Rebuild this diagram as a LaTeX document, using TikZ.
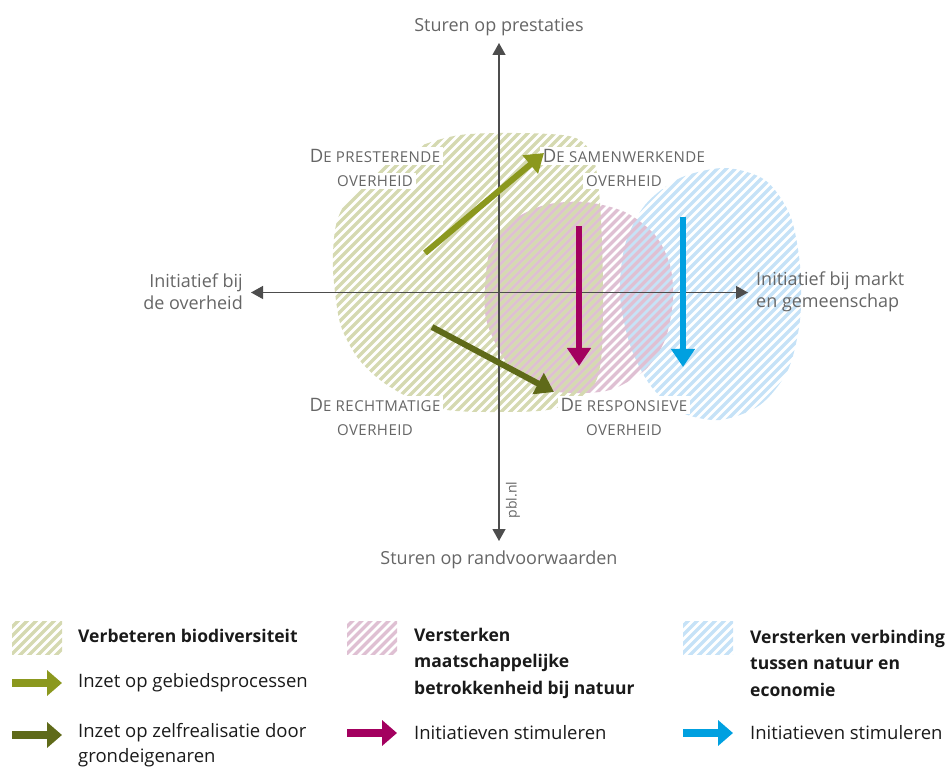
\documentclass[tikz,border=0pt]{standalone}
\usepackage{fontspec}
\setmainfont{Open Sans}
\usetikzlibrary{arrows.meta}

\definecolor{axisgray}{HTML}{4D4D4D}
\definecolor{labelgray}{HTML}{666666}
\definecolor{legendblack}{HTML}{1A1A1A}
\definecolor{hatchgreen}{HTML}{D5D9B1}
\definecolor{hatchpink}{HTML}{DFC0D3}
\definecolor{hatchblue}{HTML}{C6E2F7}
\definecolor{olivelight}{HTML}{8B981E}
\definecolor{olivedark}{HTML}{5F6A19}
\definecolor{magentaarrow}{HTML}{A3005F}
\definecolor{cyanarrow}{HTML}{00A0E0}

% diagonal stripes (x + y = const), to be used inside a clipped scope
\newcommand\stripelines[3]{%
  \foreach \c in {#2,...,#3} {\draw[#1, line width=3.2pt] (\c,0) -- ++(-900,900);}}

% small caps imitation: first capital at full size
\newcommand\capfirst[1]{{\fontsize{18.5}{25}\selectfont #1}}

\tikzset{
  axisline/.style={draw=axisgray, line width=1.3pt,
    {Triangle[length=12pt,width=13pt]}-{Triangle[length=12pt,width=13pt]}},
  axislabel/.style={text=labelgray, font=\fontsize{18}{22}\selectfont, inner sep=0pt},
  quadlabel/.style={text=labelgray, fill=white, inner xsep=3pt, inner ysep=2.5pt,
    font=\addfontfeature{LetterSpace=3}\fontsize{15}{25}\selectfont},
  bigarrow/.style={line width=6pt, -{Triangle[length=18pt,width=23pt]}},
  legarrow/.style={line width=8pt, -{Triangle[length=15pt,width=25pt]}},
  legendhead/.style={anchor=west, align=left, inner sep=0pt, text=legendblack,
    font=\bfseries\fontsize{17.5}{26.5}\selectfont},
  legendtext/.style={anchor=west, align=left, inner sep=0pt, text=legendblack,
    font=\fontsize{18.5}{25}\selectfont},
}

\begin{document}
\begin{tikzpicture}[x=1pt,y=-1pt]
\useasboundingbox (0,0) rectangle (948,767);

% ---- hatched regions ----
\begin{scope}
  \clip plot[smooth cycle] coordinates {(620,295) (625,245) (645,205) (680,178)
    (725,168) (765,180) (790,215) (800,265) (800,320) (788,370) (760,405)
    (720,420) (680,412) (650,385) (630,345)};
  \stripelines{hatchblue}{400,409}{1300}
\end{scope}
\begin{scope}
  \clip plot[smooth cycle] coordinates {(485,290) (490,250) (510,222) (545,205)
    (585,202) (625,212) (655,235) (670,265) (673,300) (665,340) (645,370)
    (610,390) (570,393) (537,387) (507,363) (487,323)};
  \stripelines{hatchpink}{404.5,413.5}{1304.5}
\end{scope}
\begin{scope}
  \clip plot[smooth cycle] coordinates {(333,270) (335,230) (343,207) (360,187)
    (387,163) (420,146) (460,135) (517,133) (573,137) (593,157) (600,203)
    (603,287) (601,360) (590,390) (553,409) (500,412) (447,410) (410,398)
    (380,380) (357,357) (340,323)};
  \stripelines{hatchgreen}{400,409}{1300}
\end{scope}

% ---- quadrant labels (white knockout behind each line) ----
\node[quadlabel] (qpres) at (375,156) {\capfirst{D}E PRESTERENDE};
\node[quadlabel] (qpresb) at (375,181) {OVERHEID};
\node[quadlabel] (qsam) at (624,156) {\capfirst{D}E SAMENWERKENDE};
\node[quadlabel] (qsamb) at (624,181) {OVERHEID};
\node[quadlabel] (qrecht) at (375,405) {\capfirst{D}E RECHTMATIGE};
\node[quadlabel] (qrechtb) at (375,430) {OVERHEID};
\node[quadlabel] (qresp) at (624,405) {\capfirst{D}E RESPONSIEVE};
\node[quadlabel] (qrespb) at (624,430) {OVERHEID};

% ---- axes ----
\node[axislabel] (ttop) at (499,27) {Sturen op prestaties};
\node[axislabel] (tbottom) at (499,560) {Sturen op randvoorwaarden};
\node[axislabel, anchor=east, align=right] (tleft) at (243,292) {Initiatief bij\\de overheid};
\node[axislabel, anchor=west, align=left] (tright) at (756,292) {Initiatief bij markt\\en gemeenschap};
\coordinate (ytop) at (499,43);
\coordinate (ybottom) at (499,541);
\coordinate (xleft) at (251,292.5);
\coordinate (xright) at (748,292.5);
\draw[axisline] (ytop) -- (ybottom);
\draw[axisline] (xleft) -- (xright);
\node[text=labelgray, rotate=90, inner sep=0pt, font=\fontsize{14}{16}\selectfont] (credit) at (513,500) {pbl.nl};

% ---- arrows ----
\coordinate (a1s) at (425,253);
\coordinate (a1e) at (544,153);
\coordinate (a2s) at (432,327);
\coordinate (a2e) at (554,392);
\coordinate (a3s) at (579,226);
\coordinate (a3e) at (579,366);
\coordinate (a4s) at (683,217);
\coordinate (a4e) at (683,367);
\draw[bigarrow, olivelight] (a1s) -- (a1e);
\draw[bigarrow, olivedark] (a2s) -- (a2e);
\draw[bigarrow, magentaarrow] (a3s) -- (a3e);
\draw[bigarrow, cyanarrow] (a4s) -- (a4e);

% ---- legend ----
\begin{scope}
  \clip (12,621) rectangle (62,654);
  \stripelines{hatchgreen}{630,639}{720}
\end{scope}
\begin{scope}
  \clip (347,621) rectangle (397,654);
  \stripelines{hatchpink}{964.5,973.5}{1060}
\end{scope}
\begin{scope}
  \clip (683,621) rectangle (733,654);
  \stripelines{hatchblue}{1300,1309}{1390}
\end{scope}
\node[legendhead] (lg1) at (78,636) {Verbeteren biodiversiteit};
\node[legendhead] (lg2) at (414,663) {Versterken\\maatschappelijke\\betrokkenheid bij natuur};
\node[legendhead] (lg3) at (750,663) {Versterken verbinding\\tussen natuur en\\economie};

\coordinate (l1s) at (12,683);  \coordinate (l1e) at (62,683);
\coordinate (l2s) at (12,735);  \coordinate (l2e) at (62,735);
\coordinate (l3s) at (347,733); \coordinate (l3e) at (397,733);
\coordinate (l4s) at (683,733); \coordinate (l4e) at (733,733);
\draw[legarrow, olivelight] (l1s) -- (l1e);
\draw[legarrow, olivedark] (l2s) -- (l2e);
\draw[legarrow, magentaarrow] (l3s) -- (l3e);
\draw[legarrow, cyanarrow] (l4s) -- (l4e);
\node[legendtext] (lt1) at (78,683) {Inzet op gebiedsprocessen};
\node[legendtext] (lt2) at (78,745.5) {Inzet op zelfrealisatie door\\grondeigenaren};
\node[legendtext] (lt3) at (414,733) {Initiatieven stimuleren};
\node[legendtext] (lt4) at (750,733) {Initiatieven stimuleren};
\end{tikzpicture}
\end{document}
